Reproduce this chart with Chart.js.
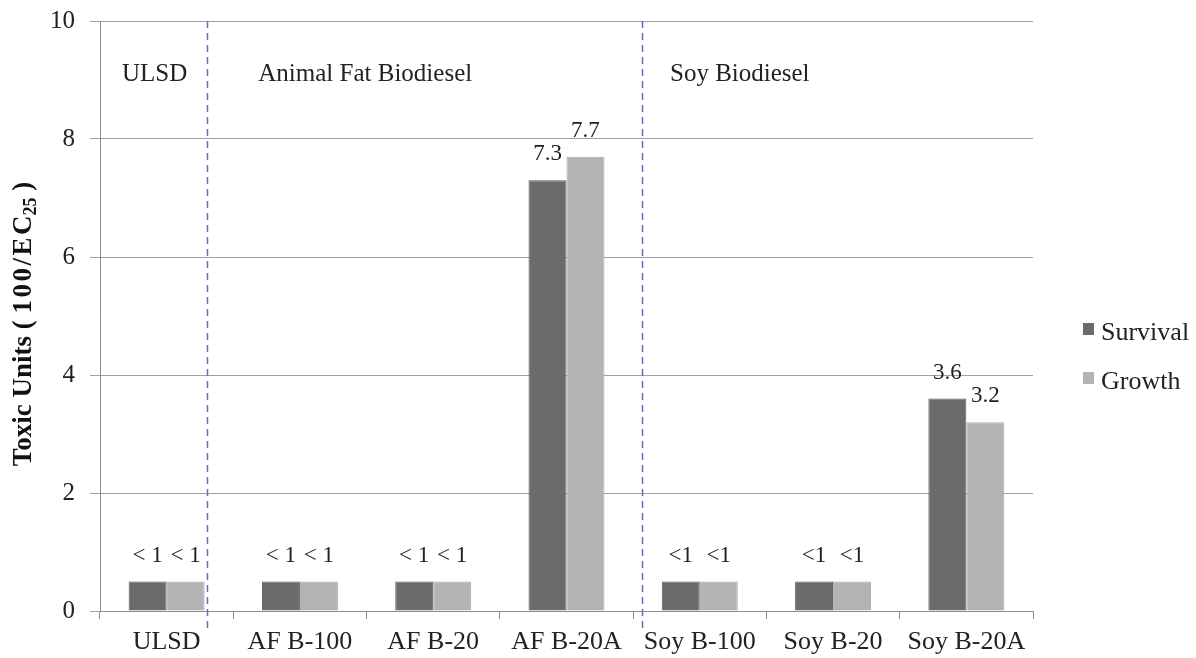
<!DOCTYPE html>
<html>
<head>
<meta charset="utf-8">
<title>Toxic Units by Fuel</title>
<script src="https://cdn.jsdelivr.net/npm/chart.js@4.4.1/dist/chart.umd.min.js"></script>
<style>
  html, body { margin: 0; padding: 0; background: #fff; }
  #wrap { width: 1196px; height: 658px; position: relative; }
</style>
</head>
<body>
<div id="wrap"><canvas id="toxChart"></canvas></div>
<script>
const categories = ["ULSD", "AF B-100", "AF B-20", "AF B-20A", "Soy B-100", "Soy B-20", "Soy B-20A"];
const survival = [0.5, 0.5, 0.5, 7.3, 0.5, 0.5, 3.6];
const growth = [0.5, 0.5, 0.5, 7.7, 0.5, 0.5, 3.2];
const survivalLabels = ["< 1", "< 1", "< 1", "7.3", "<1", "<1", "3.6"];
const growthLabels = ["< 1", "< 1", "< 1", "7.7", "<1", "<1", "3.2"];
const groupNames = ["ULSD", "Animal Fat Biodiesel", "Soy Biodiesel"];
const yTicks = [0, 2, 4, 6, 8, 10];

const SERIF = "'Liberation Serif', 'Times New Roman', serif";

// group headings, separators, value labels, axis title and legend
const decorPlugin = {
  id: "decor",
  afterDatasetsDraw(chart) {
    const ctx = chart.ctx;
    const xs = chart.scales.x;
    const area = chart.chartArea;

    // dashed separators between fuel groups
    ctx.save();
    ctx.strokeStyle = "#5e70b8";
    ctx.lineWidth = 1.5;
    ctx.setLineDash([7, 5]);
    [0.3, 3.57].forEach((v) => {
      const px = Math.round(xs.getPixelForValue(v)) + 0.5;
      ctx.beginPath();
      ctx.moveTo(px, area.top);
      ctx.lineTo(px, area.bottom + 22);
      ctx.stroke();
    });
    ctx.restore();

    // group headings
    ctx.save();
    ctx.fillStyle = "#222";
    ctx.font = "25px " + SERIF;
    ctx.textAlign = "center";
    ctx.textBaseline = "middle";
    [-0.09, 1.49, 4.3].forEach((v, i) => {
      ctx.fillText(groupNames[i], xs.getPixelForValue(v), area.top + 53);
    });
    ctx.restore();

    // value labels above bars
    ctx.save();
    ctx.fillStyle = "#222";
    ctx.font = "23px " + SERIF;
    ctx.textAlign = "center";
    ctx.textBaseline = "middle";
    const labelSets = [survivalLabels, growthLabels];
    chart.data.datasets.forEach((ds, di) => {
      chart.getDatasetMeta(di).data.forEach((bar, i) => {
        ctx.fillText(labelSets[di][i], bar.x, bar.y - 26);
      });
    });
    ctx.restore();

    // y axis title with subscript
    ctx.save();
    ctx.translate(24, 324);
    ctx.rotate(-Math.PI / 2);
    ctx.fillStyle = "#111";
    const mainFont = "bold 27px " + SERIF;
    const subFont = "bold 18px " + SERIF;
    const parts = [
      { t: "Toxic Units ( ", f: mainFont, dy: 0, ls: 0 },
      { t: "100/EC", f: mainFont, dy: 0, ls: 2.5 },
      { t: "25", f: subFont, dy: 7, ls: 0 },
      { t: " )", f: mainFont, dy: 0, ls: 0 },
    ];
    let total = 0;
    parts.forEach((p) => {
      ctx.font = p.f;
      ctx.letterSpacing = p.ls + "px";
      p.w = ctx.measureText(p.t).width - p.ls;
      total += p.w;
    });
    let cx = -total / 2;
    ctx.textBaseline = "middle";
    ctx.textAlign = "left";
    parts.forEach((p) => {
      ctx.font = p.f;
      ctx.letterSpacing = p.ls + "px";
      ctx.fillText(p.t, cx, p.dy);
      cx += p.w;
    });
    ctx.restore();

    // legend
    ctx.save();
    ctx.font = "26px " + SERIF;
    ctx.textBaseline = "middle";
    ctx.textAlign = "left";
    chart.data.datasets.forEach((ds, di) => {
      const cy = 330 + di * 49;
      ctx.fillStyle = ds.backgroundColor;
      ctx.fillRect(1083, cy - 7, 11, 12);
      ctx.fillStyle = "#222";
      ctx.fillText(ds.label, 1101, cy + 3);
    });
    ctx.restore();
  },
};

const ctx = document.getElementById("toxChart").getContext("2d");
new Chart(ctx, {
  type: "bar",
  data: {
    labels: categories,
    datasets: [
      {
        label: "Survival",
        data: survival,
        backgroundColor: "#6b6b6b",
        borderColor: "#5e5e5e",
        borderWidth: 1,
        categoryPercentage: 0.57,
        barPercentage: 1.0,
      },
      {
        label: "Growth",
        data: growth,
        backgroundColor: "#b3b3b3",
        borderColor: "#ababab",
        borderWidth: 1,
        categoryPercentage: 0.57,
        barPercentage: 1.0,
      },
    ],
  },
  options: {
    responsive: true,
    maintainAspectRatio: false,
    animation: false,
    layout: { padding: { top: 21, right: 163, left: 0, bottom: 0 } },
    plugins: {
      legend: { display: false },
      tooltip: { enabled: false },
    },
    scales: {
      x: {
        grid: {
          display: true,
          drawOnChartArea: false,
          drawTicks: true,
          tickLength: 8,
          color: "#8c8c8c",
          offset: true,
        },
        border: { color: "#8c8c8c" },
        ticks: {
          color: "#222",
          font: { family: SERIF, size: 26 },
          padding: 8,
          maxRotation: 0,
          autoSkip: false,
        },
        afterFit(scale) { scale.height = 47; },
      },
      y: {
        min: 0,
        max: 10,
        afterBuildTicks(scale) { scale.ticks = yTicks.map((v) => ({ value: v })); },
        grid: { color: "#a0a0a0", tickLength: 10, lineWidth: 1 },
        border: { color: "#8c8c8c" },
        ticks: {
          color: "#222",
          font: { family: SERIF, size: 25, lineHeight: 0.4 },
          padding: 15,
        },
        afterFit(scale) { scale.width = 100; },
      },
    },
  },
  plugins: [decorPlugin],
});
</script>
</body>
</html>
